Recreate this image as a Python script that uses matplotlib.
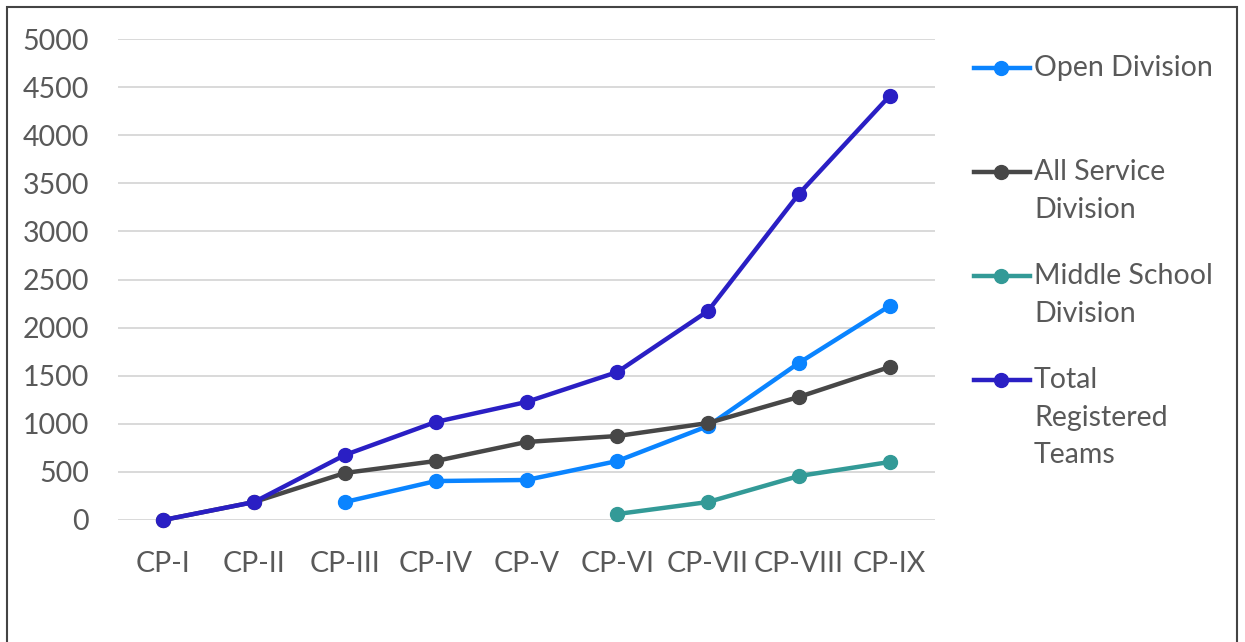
import matplotlib
matplotlib.use("Agg")
import matplotlib.pyplot as plt
from matplotlib.lines import Line2D
from matplotlib.patches import Rectangle
import numpy as np

plt.rcParams['font.family'] = ['Lato', 'DejaVu Sans']

categories = ['CP-I', 'CP-II', 'CP-III', 'CP-IV', 'CP-V', 'CP-VI', 'CP-VII', 'CP-VIII', 'CP-IX']
open_div = [None, None, 187, 405, 416, 613, 977, 1632, 2225]
all_service = [0, 187, 489, 613, 811, 873, 1008, 1279, 1590]
middle_school = [None, None, None, None, None, 62, 187, 457, 603]
total_teams = [0, 187, 676, 1019, 1227, 1538, 2173, 3389, 4408]

series = [
    ('Open Division', open_div, '#0A84FF'),
    ('All Service\nDivision', all_service, '#474747'),
    ('Middle School\nDivision', middle_school, '#339A97'),
    ('Total\nRegistered\nTeams', total_teams, '#2A1FC4'),
]

TEXT = '#595959'
FS = 20.5
LW = 3.2
MS = 10

fig = plt.figure(figsize=(12.45, 6.42), dpi=100)
ax = fig.add_axes([118 / 1245, 122 / 642, (935 - 118) / 1245, (603 - 122) / 642])

x = np.arange(len(categories))
for label, vals, color in series:
    y = np.array([np.nan if v is None else v for v in vals], dtype=float)
    ax.plot(x, y, color=color, lw=LW, marker='o', ms=MS, zorder=3, clip_on=False)

ax.set_xlim(-0.5, len(categories) - 0.5)
ax.set_ylim(0, 5000)
ax.set_yticks(np.arange(0, 5001, 500))
ax.set_xticks(x)
ax.set_xticklabels(categories)
ax.grid(axis='y', color='#D9D9D9', lw=1.4, zorder=0)
ax.set_axisbelow(True)
for s in ax.spines.values():
    s.set_visible(False)
ax.tick_params(length=0, labelsize=FS, colors=TEXT)
ax.tick_params(axis='y', pad=21)
ax.tick_params(axis='x', pad=22)

# legend drawn by hand, one slot per entry, handle level with first text line
slot_top = 68
slot_h = 104
for i, (label, vals, color) in enumerate(series):
    ypx = slot_top + i * slot_h
    yf = 1 - ypx / 642
    fig.add_artist(Line2D([974 / 1245, 1030 / 1245], [yf, yf], color=color, lw=LW,
                          transform=fig.transFigure))
    fig.add_artist(Line2D([1001 / 1245], [yf], color=color, marker='o', ms=MS,
                          transform=fig.transFigure))
    fig.text(1034 / 1245, yf + 13 / 642, label, fontsize=FS, color=TEXT,
             va='top', ha='left', linespacing=1.55)

fig.add_artist(Rectangle((7 / 1245, -0.01), 1230 / 1245, 1 - 7 / 642 + 0.01, fill=False,
                         edgecolor='#444444', lw=1.5, transform=fig.transFigure))

fig.savefig('out.png', dpi=100)
